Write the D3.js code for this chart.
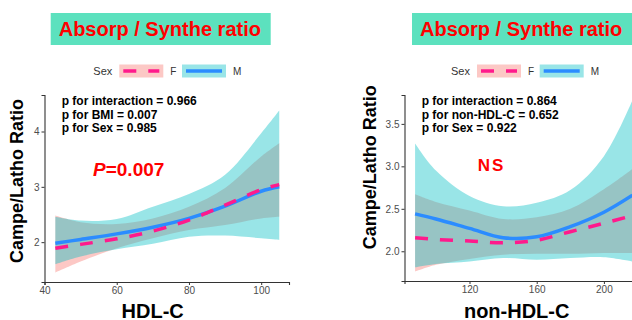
<!DOCTYPE html>
<html>
<head>
<meta charset="utf-8">
<script src="https://cdn.jsdelivr.net/npm/d3@7"></script>
<style>
  body { margin: 0; background: #fff; }
  svg text { font-family: "Liberation Sans", Arial, sans-serif; }
</style>
</head>
<body>
<div class="chart"></div>
<script>
// two smoothed fits (F / M) of the Campe/Latho ratio

// --- left panel: HDL-C ---
var hdlX   = [43, 50, 60, 70, 80, 90, 100, 105];
var hdlM   = [1.98, 2.05, 2.15, 2.27, 2.43, 2.65, 2.92, 3.00];
var hdlMLo = [1.60, 1.74, 1.87, 1.97, 2.10, 2.12, 2.07, 2.04];
var hdlMHi = [2.46, 2.39, 2.42, 2.64, 2.87, 3.22, 3.97, 4.38];
var hdlF   = [1.89, 1.96, 2.06, 2.20, 2.40, 2.67, 2.95, 3.04];
var hdlFLo = [1.45, 1.65, 1.89, 2.07, 2.22, 2.31, 2.43, 2.46];
var hdlFHi = [2.48, 2.36, 2.33, 2.43, 2.64, 2.98, 3.55, 3.79];
var hdlXTicks = [40, 60, 80, 100];
var hdlYTicks = [2, 3, 4];
var hdlNotes = ["p for interaction = 0.966", "p for BMI = 0.007", "p for Sex = 0.985"];

// --- right panel: non-HDL-C ---
var nhdlX   = [87.6, 100, 120, 140, 160, 180, 200, 217];
var nhdlM   = [2.44, 2.38, 2.27, 2.16, 2.17, 2.29, 2.46, 2.66];
var nhdlMLo = [1.81, 1.85, 1.88, 1.92, 1.90, 1.92, 1.93, 1.88];
var nhdlMHi = [3.27, 2.95, 2.65, 2.53, 2.57, 2.72, 3.12, 3.78];
var nhdlF   = [2.16, 2.14, 2.12, 2.10, 2.13, 2.23, 2.33, 2.42];
var nhdlFLo = [1.76, 1.84, 1.91, 1.96, 1.97, 1.97, 1.98, 1.98];
var nhdlFHi = [2.67, 2.58, 2.48, 2.38, 2.40, 2.50, 2.73, 2.97];
var nhdlXTicks = [120, 160, 200];
var nhdlYTicks = [2.0, 2.5, 3.0, 3.5];
var nhdlNotes = ["p for interaction = 0.864", "p for non-HDL-C = 0.652", "p for Sex = 0.922"];

var sexLevels = ["F", "M"];
var titleText = "Absorp / Synthe ratio";
var yTitle = "Campe/Latho Ratio";

var colF = "#ff1a8c", colM = "#2b8cff";
var bandF = "#F8766D", bandM = "#00BFC4";

var W = 632, H = 320;
var svg = d3.select(".chart").append("svg")
    .attr("width", W)
    .attr("height", H);

var smooth = d3.curveCatmullRom.alpha(0.5);

function drawPanel(p) {
    var x = d3.scaleLinear().domain(p.xDomain).range(p.xRange);
    var y = d3.scaleLinear().domain(p.yDomain).range(p.yRange);
    var g = svg.append("g");

    // title box
    g.append("rect")
        .attr("x", p.boxX).attr("y", 13)
        .attr("width", p.boxW).attr("height", 32)
        .attr("fill", "#5ce1be");
    g.append("text")
        .attr("x", p.boxX + 8).attr("y", 36)
        .attr("font-size", 20).attr("font-weight", "bold")
        .attr("fill", "#ff0000")
        .text(titleText);

    // legend
    var lg = g.append("g").attr("transform", "translate(" + p.legX + ",71)");
    lg.append("text").attr("x", 0).attr("y", 4)
        .attr("font-size", 11).attr("fill", "#333").text("Sex");
    sexLevels.forEach(function(s, i) {
        var kx = 26 + i * 62.7;
        lg.append("rect")
            .attr("x", kx).attr("y", -6.5)
            .attr("width", 44).attr("height", 13)
            .attr("fill", s === "F" ? bandF : bandM)
            .attr("fill-opacity", 0.4);
        lg.append("line")
            .attr("x1", kx + 4).attr("x2", kx + 40)
            .attr("y1", 0).attr("y2", 0)
            .attr("stroke", s === "F" ? colF : colM)
            .attr("stroke-width", 3.5)
            .attr("stroke-dasharray", s === "F" ? "13,12" : null);
        lg.append("text").attr("x", kx + 51).attr("y", 3.5)
            .attr("font-size", 10).attr("fill", "#333").text(s);
    });

    // ribbons
    var rows = p.xs.map(function(v, i) {
        return {x: v, m: p.m[i], mlo: p.mlo[i], mhi: p.mhi[i],
                f: p.f[i], flo: p.flo[i], fhi: p.fhi[i]};
    });
    var areaF = d3.area().curve(smooth)
        .x(function(d) { return x(d.x); })
        .y0(function(d) { return y(d.flo); })
        .y1(function(d) { return y(d.fhi); });
    var areaM = d3.area().curve(smooth)
        .x(function(d) { return x(d.x); })
        .y0(function(d) { return y(d.mlo); })
        .y1(function(d) { return y(d.mhi); });
    g.append("path").datum(rows).attr("d", areaF)
        .attr("fill", bandF).attr("fill-opacity", 0.4);
    g.append("path").datum(rows).attr("d", areaM)
        .attr("fill", bandM).attr("fill-opacity", 0.4);

    var lineM = d3.line().curve(smooth)
        .x(function(d) { return x(d.x); })
        .y(function(d) { return y(d.m); });
    var lineF = d3.line().curve(smooth)
        .x(function(d) { return x(d.x); })
        .y(function(d) { return y(d.f); });
    g.append("path").datum(rows).attr("d", lineM)
        .attr("fill", "none").attr("stroke", colM).attr("stroke-width", 3.5);
    g.append("path").datum(rows).attr("d", lineF)
        .attr("fill", "none").attr("stroke", colF).attr("stroke-width", 3.5)
        .attr("stroke-dasharray", "13,12");

    // axes
    var xAxis = g.append("g")
        .attr("transform", "translate(0," + p.yRange[0] + ")")
        .call(d3.axisBottom(x).tickValues(p.xTicks).tickSize(3).tickPadding(2));
    var yAxis = g.append("g")
        .attr("transform", "translate(" + p.xRange[0] + ",0)")
        .call(d3.axisLeft(y).tickValues(p.yTicks).tickSize(3).tickPadding(2)
              .tickFormat(p.yFmt));
    [xAxis, yAxis].forEach(function(a) {
        a.select(".domain").attr("stroke", "#333").attr("stroke-width", 1.1);
        a.selectAll(".tick line").attr("stroke", "#333");
        a.selectAll(".tick text").attr("fill", "#4d4d4d")
            .attr("font-size", 10).attr("font-family", null);
    });

    // axis titles
    g.append("text")
        .attr("x", p.xTitleX).attr("y", 317.5)
        .attr("text-anchor", "middle")
        .attr("font-size", 20).attr("font-weight", "bold")
        .text(p.xTitle);
    g.append("text")
        .attr("transform", "translate(" + p.yTitleX + "," + p.yTitleY + ") rotate(-90)")
        .attr("text-anchor", "middle")
        .attr("font-size", 18).attr("font-weight", "bold")
        .text(yTitle);

    // annotations
    p.notes.forEach(function(t, i) {
        g.append("text")
            .attr("x", p.noteX).attr("y", 105 + i * 13.7)
            .attr("font-size", 12).attr("font-weight", "bold")
            .text(t);
    });
    p.extra(g);
}

drawPanel({
    xs: hdlX, m: hdlM, mlo: hdlMLo, mhi: hdlMHi, f: hdlF, flo: hdlFLo, fhi: hdlFHi,
    xDomain: [40, 107.7], xRange: [44.5, 289],
    yDomain: [1.28, 4.66], yRange: [282, 95],
    xTicks: hdlXTicks, yTicks: hdlYTicks, yFmt: d3.format("d"),
    boxX: 50.7, boxW: 220, legX: 93.3,
    xTitle: "HDL-C", xTitleX: 152.7, yTitleX: 23, yTitleY: 181,
    notes: hdlNotes, noteX: 61.7,
    extra: function(g) {
        var t = g.append("text").attr("x", 93).attr("y", 175.5)
            .attr("font-size", 19).attr("font-weight", "bold").attr("fill", "#ff0000");
        t.append("tspan").attr("font-style", "italic").text("P");
        t.append("tspan").text("=0.007");
    }
});

drawPanel({
    xs: nhdlX, m: nhdlM, mlo: nhdlMLo, mhi: nhdlMHi, f: nhdlF, flo: nhdlFLo, fhi: nhdlFHi,
    xDomain: [81.3, 220], xRange: [404.5, 637.5],
    yDomain: [1.65, 3.84], yRange: [281, 95],
    xTicks: nhdlXTicks, yTicks: nhdlYTicks, yFmt: d3.format(".1f"),
    boxX: 412, boxW: 224, legX: 451,
    xTitle: "non-HDL-C", xTitleX: 516.7, yTitleX: 375.5, yTitleY: 167.3,
    notes: nhdlNotes, noteX: 421.7,
    extra: function(g) {
        g.append("text").attr("x", 477.7).attr("y", 170.7)
            .attr("font-size", 17).attr("font-weight", "bold").attr("fill", "#ff0000")
            .attr("letter-spacing", 2).text("NS");
    }
});
</script>
</body>
</html>
